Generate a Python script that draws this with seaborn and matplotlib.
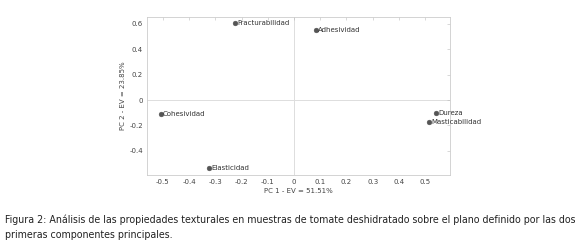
import seaborn as sns
import matplotlib.pyplot as plt
import pandas as pd

variables = ["Fracturabilidad", "Adhesividad", "Dureza", "Masticabilidad", "Cohesividad", "Elasticidad"]
pc1 = [-0.225, 0.084, 0.542, 0.515, -0.508, -0.324]
pc2 = [0.608, 0.553, -0.103, -0.174, -0.110, -0.537]
xticks = [-0.5, -0.4, -0.3, -0.2, -0.1, 0, 0.1, 0.2, 0.3, 0.4, 0.5]
yticks = [-0.4, -0.2, 0, 0.2, 0.4, 0.6]

df = pd.DataFrame({"var": variables, "pc1": pc1, "pc2": pc2})

sns.set_style("white")
plt.rcParams['font.family'] = ['DejaVu Sans']

fig = plt.figure(figsize=(5.8, 2.47), dpi=100)
ax = fig.add_axes([0.2534, 0.2915, 0.5224, 0.64])

ax.axvline(0, color="#dddddd", lw=0.7, zorder=0)
ax.axhline(0, color="#dddddd", lw=0.7, zorder=0)
sns.scatterplot(data=df, x="pc1", y="pc2", ax=ax, color="#555555", s=12,
                edgecolor="#555555", linewidth=0.3, zorder=3)
for _, r in df.iterrows():
    ax.text(r.pc1 + 0.008, r.pc2, r["var"], fontsize=5, color="#333333",
            va="center", ha="left")

ax.set_xlim(-0.561, 0.595)
ax.set_ylim(-0.59, 0.655)
ax.set_xticks(xticks)
ax.set_yticks(yticks)
ax.set_xticklabels([f"{t:g}" for t in xticks])
ax.set_yticklabels([f"{t:g}" for t in yticks])
ax.tick_params(direction="in", length=2, width=0.4, colors="#bbbbbb",
               labelcolor="#444444", labelsize=5, top=True, right=True,
               pad=3)
for s in ax.spines.values():
    s.set_color("#cccccc")
    s.set_linewidth(0.6)
ax.set_xlabel("PC 1 - EV = 51.51%", fontsize=5, color="#444444", labelpad=2)
ax.set_ylabel("PC 2 - EV = 23.85%", fontsize=5, color="#444444", labelpad=2)

fig.text(0.009, 0.097, "Figura 2: Análisis de las propiedades texturales en muestras de tomate "
         "deshidratado sobre el plano definido por las dos", fontsize=6.85, color="#222222")
fig.text(0.009, 0.037, "primeras componentes principales.", fontsize=6.85, color="#222222")

fig.savefig("out.png", dpi=100)
